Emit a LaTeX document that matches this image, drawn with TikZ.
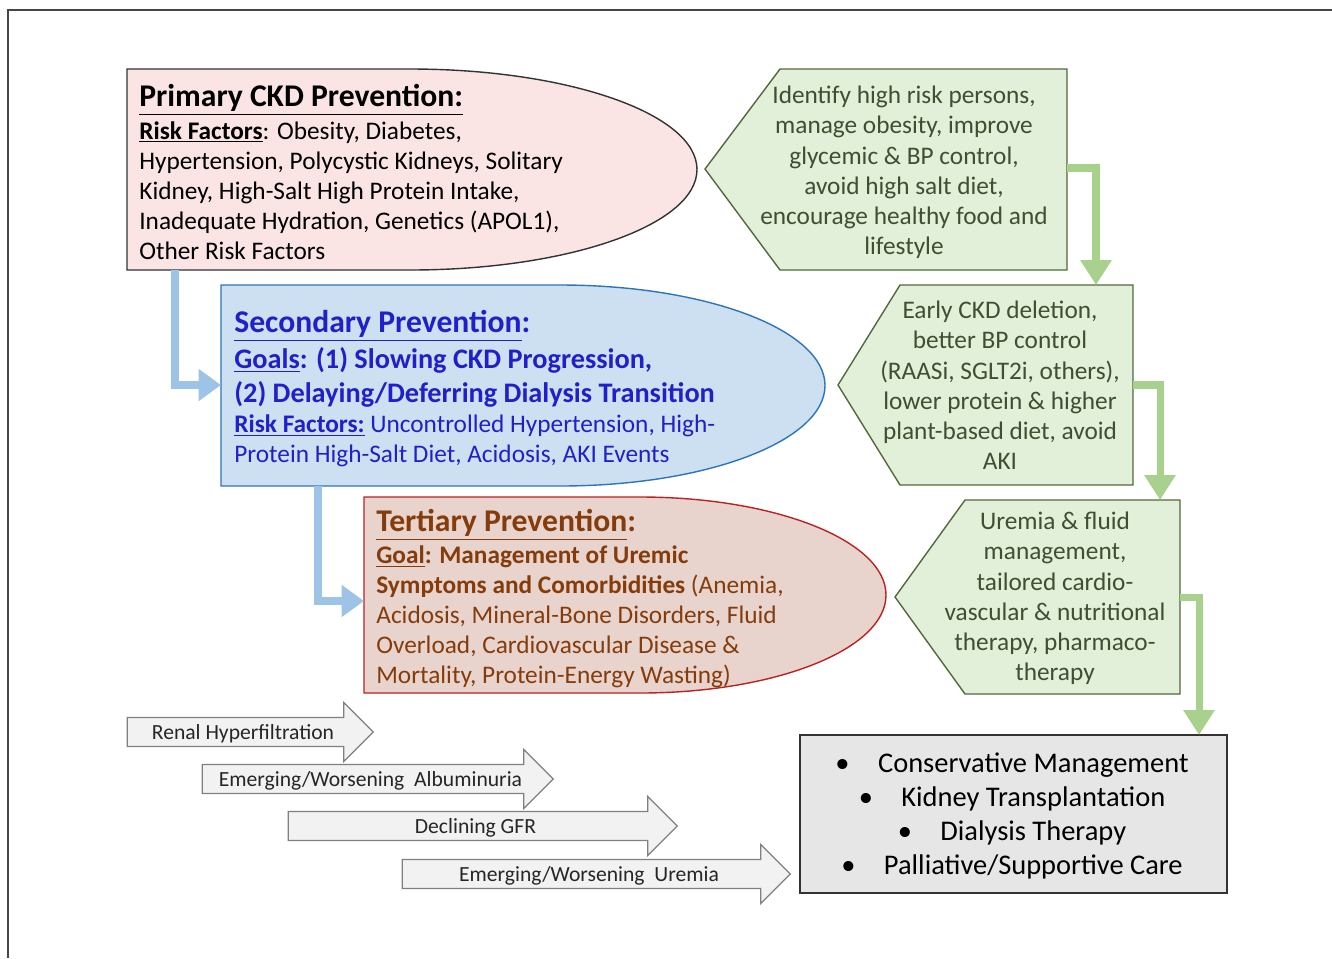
\documentclass[tikz,border=0pt]{standalone}
\usepackage{fontspec}
\setmainfont{Carlito}
\usetikzlibrary{arrows.meta,shapes.arrows}
\definecolor{pinkfill}{RGB}{251,228,228}
\definecolor{bluefill}{RGB}{205,224,242}
\definecolor{blueline}{RGB}{46,117,182}
\definecolor{bluetext}{RGB}{32,32,200}
\definecolor{tertfill}{RGB}{232,212,204}
\definecolor{tertline}{RGB}{185,35,35}
\definecolor{terttext}{RGB}{132,60,12}
\definecolor{greenfill}{RGB}{226,239,217}
\definecolor{greenline}{RGB}{84,104,60}
\definecolor{greentext}{RGB}{66,78,50}
\definecolor{greenarrow}{RGB}{169,209,142}
\definecolor{bluearrow}{RGB}{157,195,230}
\definecolor{finfill}{RGB}{231,230,230}
\definecolor{stagefill}{RGB}{242,242,242}
\definecolor{stageline}{RGB}{128,128,128}
\definecolor{framecol}{RGB}{70,70,70}

\begin{document}
\begin{tikzpicture}[x=0.02cm, y=-0.02cm]
\tikzstyle{txt}=[inner sep=0, anchor=north west, align=left, font=\fontsize{14.4}{17.1}\selectfont]
\tikzstyle{gtxt}=[inner sep=0, anchor=north, align=center, text=greentext, font=\fontsize{14.4}{17.1}\selectfont]
\tikzstyle{gbox}=[draw=greenline, fill=greenfill, line width=0.8pt]
\tikzstyle{garrow}=[draw=greenarrow, line width=4pt, -{Triangle[length=0.5cm,width=0.6cm]}]
\tikzstyle{barrow}=[draw=bluearrow, line width=4.5pt, -{Triangle[length=0.45cm,width=0.62cm]}]
\tikzstyle{stage}=[draw=stageline, fill=stagefill, line width=0.7pt, single arrow, single arrow head extend=0.3cm, inner xsep=2pt, inner ysep=3pt, text height=9pt, text depth=0.9pt, font=\fontsize{12.3}{14}\selectfont, text=black!85]
\useasboundingbox (0,0) rectangle (1332,958);
\draw[framecol, line width=1pt] (8,958) -- (8,10) -- (1332,10);

\draw[draw=black!80, fill=pinkfill, line width=0.8pt] (127,69) -- (410,69) .. controls (568.5,69) and (697,114) .. (697,169.5) .. controls (697,225) and (568.5,270) .. (410,270) -- (127,270) -- cycle;
\draw[draw=blueline, fill=bluefill, line width=0.8pt] (221,285) -- (560,285) .. controls (706.4,285) and (825,330) .. (825,385.5) .. controls (825,441) and (706.4,486) .. (560,486) -- (221,486) -- cycle;
\draw[draw=tertline, fill=tertfill, line width=0.8pt] (364,497) -- (640,497) .. controls (775.9,497) and (886,540.9) .. (886,595) .. controls (886,649.1) and (775.9,693) .. (640,693) -- (364,693) -- cycle;

\node[txt] (p1) at (139,84) {{\fontsize{18}{17}\selectfont\bfseries\underline{Primary CKD Prevention:}}\\[1.4pt]
\textbf{\underline{Risk Factors}}: Obesity, Diabetes,\\
Hypertension, Polycystic Kidneys, Solitary\\
Kidney, High-Salt High Protein Intake,\\
Inadequate Hydration, Genetics (APOL1),\\
Other Risk Factors};
\node[txt, text=bluetext] (s1) at (234,310) {{\fontsize{18}{17}\selectfont\bfseries\underline{Secondary Prevention}:}\\[3.2pt]
{\fontsize{16.1}{17}\selectfont\bfseries\underline{Goals}: (1) Slowing CKD Progression,}\\[2.2pt]
{\fontsize{16.1}{17}\selectfont\bfseries (2) Delaying/Deferring Dialysis Transition}\\[0.4pt]
\textbf{\underline{Risk Factors:}} Uncontrolled Hypertension, High-\\[-0.4pt]
Protein High-Salt Diet, Acidosis, AKI Events};
\node[txt, text=terttext] (t1) at (376,509) {{\fontsize{18}{17}\selectfont\bfseries\underline{Tertiary Prevention}:}\\[1.2pt]
\textbf{\underline{Goal}: Management of Uremic}\\
\textbf{Symptoms and Comorbidities} (Anemia,\\
Acidosis, Mineral-Bone Disorders, Fluid\\
Overload, Cardiovascular Disease \&\\
Mortality, Protein-Energy Wasting)};

\draw[gbox] (780,69) -- (1067,69) -- (1067,270) -- (780,270) -- (705,169) -- cycle;
\draw[gbox] (900,285) -- (1133,285) -- (1133,485) -- (900,485) -- (838,385) -- cycle;
\draw[gbox] (965,500) -- (1180,500) -- (1180,694) -- (965,694) -- (895,597) -- cycle;
\node[gtxt] (g1) at (904,86) {Identify high risk persons,\\ manage obesity, improve\\ glycemic \& BP control,\\ avoid high salt diet,\\ encourage healthy food and\\ lifestyle};
\node[gtxt] (g2) at (1000,301) {Early CKD deletion,\\ better BP control\\ (RAASi, SGLT2i, others),\\ lower protein \& higher\\ plant-based diet, avoid\\ AKI};
\node[gtxt] (g3) at (1055,512) {Uremia \& fluid\\ management,\\ tailored cardio-\\ vascular \& nutritional\\ therapy, pharmaco-\\ therapy};

\node[draw=black!80, fill=finfill, line width=1.1pt, minimum width=8.54cm, minimum height=3.16cm] (fin) at (1013.5,814) {};
\node[align=center, inner sep=0, font=\fontsize{16.2}{19.35}\selectfont] (fin-txt) at (1012,816) {\textbullet\quad Conservative Management\\ \textbullet\quad Kidney Transplantation\\ \textbullet\quad Dialysis Therapy\\ \textbullet\quad Palliative/Supportive Care};

\node[stage, minimum height=4.92cm] (a1) at (243,732) {Renal Hyperfiltration};
\node[stage, minimum height=7.02cm] (a2) at (370.5,779) {Emerging/Worsening~ Albuminuria};
\node[stage, minimum height=7.78cm] (a3) at (475.5,826) {Declining GFR};
\node[stage, minimum height=7.76cm] (a4) at (589,874) {Emerging/Worsening~ Uremia};

\coordinate (p-out) at (175,270);
\coordinate (s-in) at (221,385);
\coordinate (s-out) at (318,486);
\coordinate (t-in) at (364,601);
\draw[barrow] (p-out) |- (s-in);
\draw[barrow] (s-out) |- (t-in);

\coordinate (g1-out) at (1067,168);
\coordinate (g2-in) at (1096,285);
\coordinate (g2-out) at (1133,385);
\coordinate (g3-in) at (1160,500);
\coordinate (g3-out) at (1180,597);
\coordinate (fin-in) at (1199,735);
\draw[garrow] (g1-out) -| (g2-in);
\draw[garrow] (g2-out) -| (g3-in);
\draw[garrow] (g3-out) -| (fin-in);
\end{tikzpicture}
\end{document}
